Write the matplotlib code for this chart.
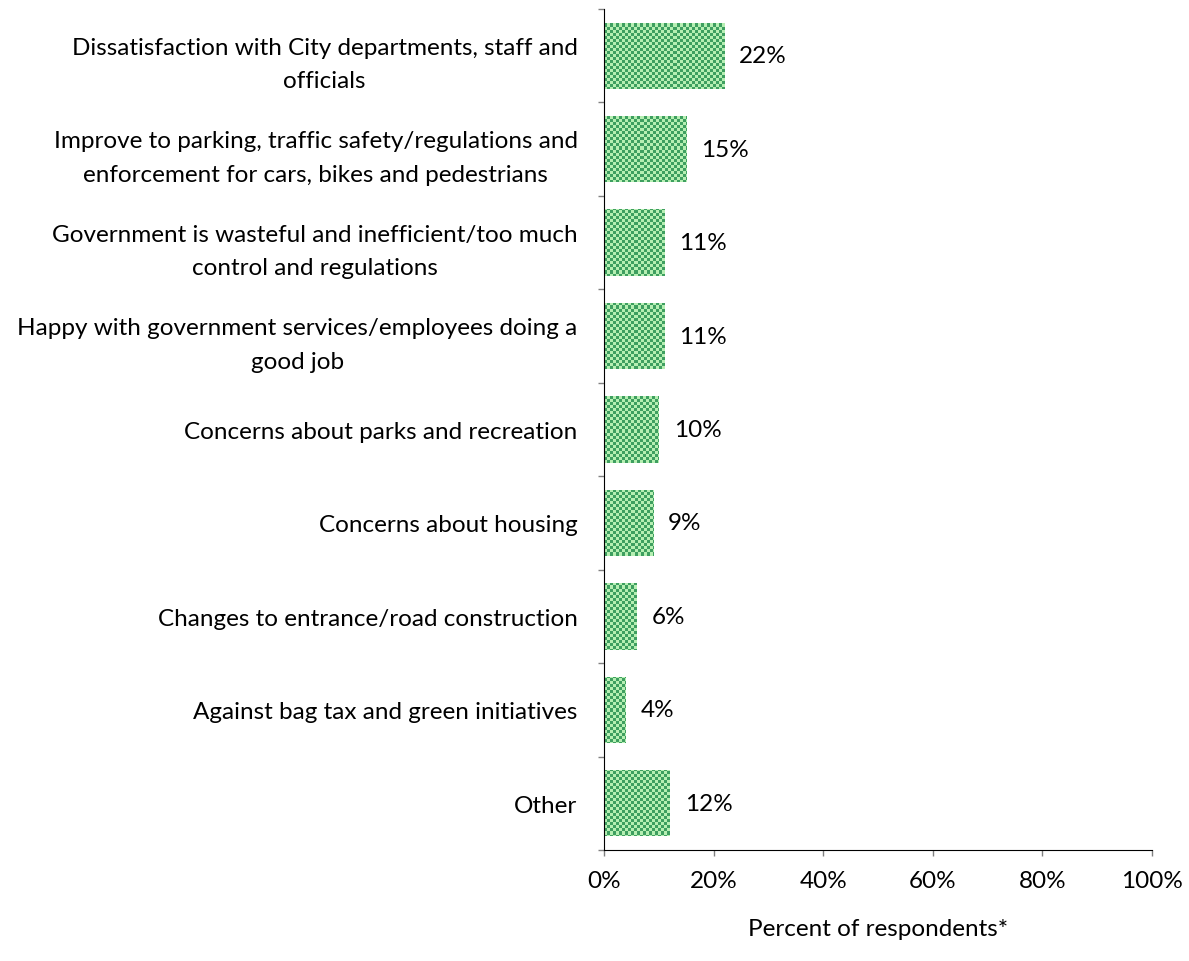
import numpy as np
import matplotlib
matplotlib.use("Agg")
import matplotlib.pyplot as plt
from matplotlib.colors import ListedColormap

categories = [
    "Dissatisfaction with City departments, staff and\nofficials",
    "Improve to parking, traffic safety/regulations and\nenforcement for cars, bikes and pedestrians",
    "Government is wasteful and inefficient/too much\ncontrol and regulations",
    "Happy with government services/employees doing a\ngood job",
    "Concerns about parks and recreation",
    "Concerns about housing",
    "Changes to entrance/road construction",
    "Against bag tax and green initiatives",
    "Other",
]
values = [22, 15, 11, 11, 10, 9, 6, 4, 12]
xticks = [0, 20, 40, 60, 80, 100]

plt.rcParams['font.family'] = ['Lato', 'DejaVu Sans']
FS = 17.5

fig = plt.figure(figsize=(11.89, 9.62), dpi=100)
ax = fig.add_axes([604 / 1189, 1 - 851 / 962, (1152 - 604) / 1189, (851 - 10) / 962])

n = len(categories)
ypos = np.arange(n)
bars = ax.barh(ypos, values, height=0.71, color='none', edgecolor='none', zorder=2)
ax.set_ylim(n - 0.5, -0.5)
ax.set_xlim(0, 100)

# checkerboard fill clipped to each bar
cols, rows = 548 // 3, 841 // 3
checker = (np.add.outer(np.arange(rows), np.arange(cols)) % 2).astype(float)
cmap = ListedColormap(['#b6efb2', '#3e9f60'])
for b in bars:
    im = ax.imshow(checker, cmap=cmap, interpolation='nearest', aspect='auto',
                   extent=[0, 100, n - 0.5, -0.5], zorder=2)
    im.set_clip_path(b)

for y, v in zip(ypos, values):
    ax.text(v + 2.7, y, f"{v}%", va='center', ha='left', fontsize=FS, color='black')

ax.set_yticks(ypos)
ax.set_yticklabels(categories, fontsize=FS, multialignment='center', linespacing=1.75)
ax.set_yticks(np.arange(n + 1) - 0.5, minor=True)
ax.tick_params(axis='y', which='major', length=0, pad=19)
ax.tick_params(axis='y', which='minor', length=4.5, color='#808080', width=1)

ax.set_xticks(xticks)
ax.set_xticklabels([f"{t}%" for t in xticks], fontsize=FS)
ax.tick_params(axis='x', length=4.5, color='#808080', width=1, pad=10)
ax.set_xlabel("Percent of respondents*", fontsize=FS, labelpad=19)

for s in ['top', 'right']:
    ax.spines[s].set_visible(False)
ax.spines['left'].set_color('black')
ax.spines['bottom'].set_color('black')

fig.savefig("out.png", dpi=100)
